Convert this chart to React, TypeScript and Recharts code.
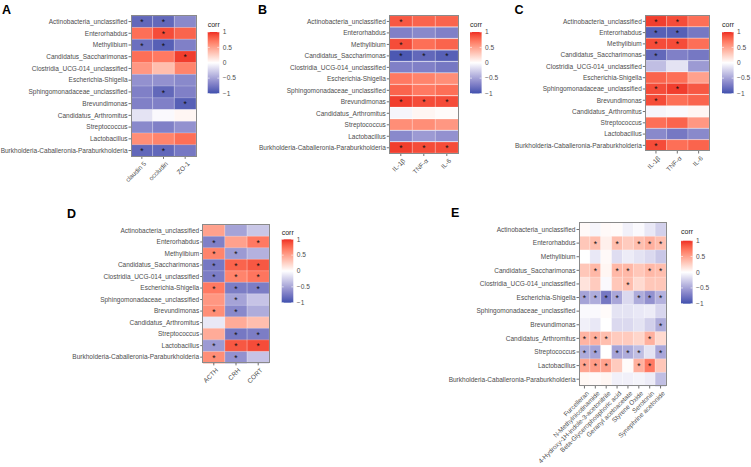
import React from 'react';
import { BarChart, Bar, XAxis, YAxis, Cell, LabelList } from 'recharts';

const FONT = '"Liberation Sans", Arial, Helvetica, sans-serif';

// ---------- data ----------
const taxa = [
  'Actinobacteria_unclassified',
  'Enterorhabdus',
  'Methylibium',
  'Candidatus_Saccharimonas',
  'Clostridia_UCG-014_unclassified',
  'Escherichia-Shigella',
  'Sphingomonadaceae_unclassified',
  'Brevundimonas',
  'Candidatus_Arthromitus',
  'Streptococcus',
  'Lactobacillus',
  'Burkholderia-Caballeronia-Paraburkholderia',
];

const colsA = ['claudin 5', 'occludin', 'ZO-1'];
const valsA = [
  [-0.85, 0.75, -0.8, 0.75, 0.55, -0.6, -0.7, -0.7, -0.15, -0.65, 0.6, -0.85],
  [-0.85, 0.9, -0.9, 0.7, 0.35, -0.6, -0.85, -0.7, -0.03, -0.7, 0.65, -0.85],
  [-0.65, 0.8, -0.7, 0.95, 0.65, -0.65, -0.7, -0.9, 0.05, -0.6, 0.75, -0.75],
];
const sigA = [[0, 2, 11], [0, 1, 2, 6, 11], [3, 7]];

const colsB = ['IL-1β', 'TNF-α', 'IL-6'];
const valsB = [
  [0.85, -0.7, 0.9, -0.95, -0.7, 0.7, 0.8, 0.95, -0.05, 0.6, -0.65, 0.95],
  [0.8, -0.65, 0.75, -0.85, -0.7, 0.65, 0.7, 0.9, 0.05, 0.6, -0.55, 0.9],
  [0.8, -0.7, 0.8, -0.9, -0.75, 0.6, 0.75, 0.9, 0.02, 0.55, -0.6, 0.9],
];
const sigB = [[0, 2, 3, 7, 11], [3, 7, 11], [3, 7, 11]];

const colsC = ['IL-1β', 'TNF-α', 'IL-6'];
const valsC = [
  [0.95, -0.9, 0.9, -0.85, -0.35, 0.8, 0.9, 0.9, -0.05, 0.75, -0.65, 0.9],
  [0.9, -0.9, 0.9, -0.7, -0.15, 0.75, 0.95, 0.75, -0.03, 0.8, -0.75, 0.75],
  [0.75, -0.75, 0.75, -0.75, -0.55, 0.5, 0.85, 0.8, 0.05, 0.55, -0.65, 0.8],
];
const sigC = [[0, 1, 2, 3, 6, 7, 11], [0, 1, 2, 6], []];

const colsD = ['ACTH', 'CRH', 'CORT'];
const valsD = [
  [0.5, -0.7, 0.65, -0.75, -0.72, 0.7, 0.55, 0.6, -0.12, 0.45, -0.55, 0.6],
  [-0.5, 0.5, -0.55, 0.8, 0.65, -0.72, -0.5, -0.65, 0.45, -0.75, 0.85, -0.6],
  [-0.3, 0.7, -0.42, 0.85, 0.72, -0.72, -0.32, -0.45, 0.35, -0.72, 0.9, -0.32],
];
const sigD = [[1, 2, 3, 4, 5, 7, 10, 11], [2, 3, 4, 5, 6, 7, 9, 10, 11], [1, 3, 4, 5, 9, 10]];

const colsE = [
  'Furcelleran',
  'N-Methylnicotinamide',
  '4-Hydroxy-1H-indole-3-acetonitrile',
  'Beta-Glycerophosphoric acid',
  'Geranyl acetoacetate',
  'Styrene Oxide',
  'Serotonin',
  'Synephrine acetonide',
];
const valsE = [
  [0.03, 0.3, 0.0, 0.3, 0.15, -0.5, -0.03, -0.08, 0.4, -0.45, 0.48, 0.04],
  [-0.05, 0.35, -0.12, 0.38, 0.28, -0.45, -0.03, -0.12, 0.42, -0.5, 0.52, 0.03],
  [0.03, 0.08, 0.03, 0.05, -0.03, -0.75, 0.02, 0.0, 0.35, 0.0, 0.5, 0.05],
  [0.02, 0.35, -0.18, 0.38, 0.3, -0.48, -0.15, -0.2, 0.28, -0.5, 0.28, -0.08],
  [-0.08, 0.28, -0.1, 0.38, 0.35, -0.2, -0.15, -0.2, 0.28, -0.45, 0.02, -0.08],
  [-0.03, 0.35, -0.15, 0.3, 0.2, -0.45, -0.12, -0.15, 0.22, -0.35, 0.42, -0.06],
  [-0.12, 0.42, -0.2, 0.38, 0.3, -0.6, -0.1, -0.25, 0.42, -0.15, 0.7, -0.1],
  [-0.25, 0.35, -0.3, 0.35, 0.3, -0.42, -0.22, -0.45, 0.2, -0.48, 0.3, -0.35],
];
const sigE = [
  [5, 8, 9, 10],
  [1, 3, 5, 8, 9, 10],
  [5, 8, 10],
  [1, 3, 5, 9],
  [3, 4, 9],
  [1, 5, 9, 10],
  [1, 3, 5, 8, 10],
  [1, 3, 5, 7, 9],
];

const legendTicks = [1, 0.5, 0, -0.5, -1];
const legendLabels = ['1', '0.5', '0', '\u22120.5', '\u22121'];

// ---------- colour scale (Lab interpolation like ggplot) ----------
const LOW = '#3F50AE';
const HIGH = '#EE2D24';
const MID = '#FFFFFF';

function hexToRgb(h: string) {
  const n = parseInt(h.slice(1), 16);
  return [(n >> 16) & 255, (n >> 8) & 255, n & 255];
}
function toLin(c: number) {
  c /= 255;
  return c <= 0.04045 ? c / 12.92 : Math.pow((c + 0.055) / 1.055, 2.4);
}
function fromLin(c: number) {
  const v = c <= 0.0031308 ? 12.92 * c : 1.055 * Math.pow(c, 1 / 2.4) - 0.055;
  return Math.round(Math.max(0, Math.min(1, v)) * 255);
}
function rgbToLab(rgb: number[]) {
  const R = toLin(rgb[0]), G = toLin(rgb[1]), B = toLin(rgb[2]);
  const X = (0.4124 * R + 0.3576 * G + 0.1805 * B) / 0.95047;
  const Y = 0.2126 * R + 0.7152 * G + 0.0722 * B;
  const Z = (0.0193 * R + 0.1192 * G + 0.9505 * B) / 1.08883;
  const f = (t: number) => (t > 0.008856 ? Math.cbrt(t) : 7.787 * t + 16 / 116);
  return [116 * f(Y) - 16, 500 * (f(X) - f(Y)), 200 * (f(Y) - f(Z))];
}
function labToRgb(lab: number[]) {
  const fy = (lab[0] + 16) / 116;
  const fx = fy + lab[1] / 500;
  const fz = fy - lab[2] / 200;
  const inv = (t: number) => (t * t * t > 0.008856 ? t * t * t : (t - 16 / 116) / 7.787);
  const X = inv(fx) * 0.95047, Y = inv(fy), Z = inv(fz) * 1.08883;
  const R = 3.2406 * X - 1.5372 * Y - 0.4986 * Z;
  const G = -0.9689 * X + 1.8758 * Y + 0.0415 * Z;
  const B = 0.0557 * X - 0.204 * Y + 1.057 * Z;
  return `rgb(${fromLin(R)},${fromLin(G)},${fromLin(B)})`;
}
const labLow = rgbToLab(hexToRgb(LOW));
const labHigh = rgbToLab(hexToRgb(HIGH));
const labMid = rgbToLab(hexToRgb(MID));
function corrColor(v: number) {
  const t = Math.max(-1, Math.min(1, v));
  const end = t >= 0 ? labHigh : labLow;
  const a = Math.abs(t);
  return labToRgb([0, 1, 2].map((k) => labMid[k] + (end[k] - labMid[k]) * a));
}

// ---------- layout ----------
const W = 751;
const H = 467;
const TICK_FONT = 6.5;

type PanelCfg = {
  letter: string;
  letterX: number;
  letterY: number;
  cols: string[];
  vals: number[][];
  sig: number[][];
  box: [number, number, number, number];
  bar: { x: number; y: number; h: number; titleY: number };
};

const panels: PanelCfg[] = [
  { letter: 'A', letterX: 2, letterY: 13.5, cols: colsA, vals: valsA, sig: sigA, box: [131, 15.7, 196, 156.4], bar: { x: 207.7, y: 32, h: 61.5, titleY: 25 } },
  { letter: 'B', letterX: 258, letterY: 13.5, cols: colsB, vals: valsB, sig: sigB, box: [389.3, 15.7, 458.3, 153.5], bar: { x: 470, y: 32, h: 61.5, titleY: 25 } },
  { letter: 'C', letterX: 514.5, letterY: 13.5, cols: colsC, vals: valsC, sig: sigC, box: [645.3, 15.7, 709.3, 151], bar: { x: 722, y: 32, h: 61.5, titleY: 25 } },
  { letter: 'D', letterX: 67, letterY: 218, cols: colsD, vals: valsD, sig: sigD, box: [202.7, 224.7, 269.3, 362.9], bar: { x: 281.7, y: 239.3, h: 63.4, titleY: 232.7 } },
  { letter: 'E', letterX: 451, letterY: 217, cols: colsE, vals: valsE, sig: sigE, box: [579, 222.7, 666, 386], bar: { x: 681, y: 240.7, h: 63, titleY: 232 } },
];

const Star = (props: any) => {
  const { x, y, width, height, value } = props;
  if (!value) return null;
  return (
    <text x={x + width / 2} y={y + height / 2 + 3.6} textAnchor="middle" fontSize={8.5} fill="#111" fontFamily={FONT}>
      *
    </text>
  );
};

function makeColTick(cols: string[]) {
  return (props: any) => {
    const { x, y, payload } = props;
    const label = cols[Math.floor(payload.value)];
    const ax = x + 1.5;
    const ay = y + 1;
    return (
      <text
        x={ax}
        y={ay}
        dy="0.72em"
        transform={`rotate(-45 ${ax} ${ay})`}
        textAnchor="end"
        fontSize={TICK_FONT}
        fill="#4d4d4d"
        fontFamily={FONT}
      >
        {label}
      </text>
    );
  };
}

function Panel({ cfg }: { cfg: PanelCfg }) {
  const [bl, bt, br, bb] = cfg.box;
  const data = taxa.map((name, i) => {
    const o: any = { name };
    cfg.cols.forEach((_, j) => {
      o['c' + j] = 1;
      o['v' + j] = cfg.vals[j][i];
      o['s' + j] = cfg.sig[j].includes(i) ? 1 : 0;
    });
    return o;
  });
  const n = cfg.cols.length;
  return (
    <div style={{ position: 'absolute', left: 0, top: 0, width: W, height: H, pointerEvents: 'none' }}>
      <BarChart
        width={W}
        height={H}
        data={data}
        layout="vertical"
        margin={{ top: bt, right: W - br, bottom: 0, left: 0 }}
        barCategoryGap={0}
        barGap={0}
      >
        <XAxis
          type="number"
          domain={[0, n]}
          ticks={cfg.cols.map((_, j) => j + 0.5)}
          interval={0}
          height={H - bb}
          axisLine={false}
          tickLine={{ stroke: '#333', strokeWidth: 0.7 }}
          tickSize={2.5}
          tickMargin={1}
          tick={makeColTick(cfg.cols)}
          allowDataOverflow
        />
        <YAxis
          type="category"
          dataKey="name"
          width={bl}
          interval={0}
          axisLine={false}
          tickLine={{ stroke: '#333', strokeWidth: 0.7 }}
          tickSize={2.5}
          tickMargin={1}
          tick={{ fontSize: TICK_FONT, fill: '#4d4d4d', fontFamily: FONT }}
        />
        {cfg.cols.map((_, j) => (
          <Bar key={j} dataKey={'c' + j} stackId="s" isAnimationActive={false}>
            {data.map((d, i) => (
              <Cell key={i} fill={corrColor(d['v' + j])} stroke="#ffffff" strokeOpacity={0.35} strokeWidth={0.6} />
            ))}
            <LabelList dataKey={'s' + j} content={Star} />
          </Bar>
        ))}
      </BarChart>
      <div
        style={{
          position: 'absolute',
          left: bl - 0.5,
          top: bt - 0.5,
          width: br - bl + 1,
          height: bb - bt + 1,
          border: '1px solid #8a8a8a',
          boxSizing: 'border-box',
        }}
      />
    </div>
  );
}

function ColorBar({ cfg }: { cfg: PanelCfg }) {
  const { x, y, h, titleY } = cfg.bar;
  const w = 11.6;
  const id = 'grad' + cfg.letter;
  const stops = [];
  for (let k = 0; k <= 20; k++) {
    const v = 1 - k / 10;
    stops.push(<stop key={k} offset={`${(k / 20) * 100}%`} stopColor={corrColor(v)} />);
  }
  return (
    <svg style={{ position: 'absolute', left: 0, top: 0 }} width={W} height={H}>
      <defs>
        <linearGradient id={id} x1="0" y1="0" x2="0" y2="1">
          {stops}
        </linearGradient>
      </defs>
      <text x={x} y={titleY} dy="0.35em" fontSize={7} fill="#222" fontFamily={FONT}>
        corr
      </text>
      <rect x={x} y={y} width={w} height={h} fill={`url(#${id})`} />
      {legendTicks.map((t, k) => {
        const ty = y + ((1 - t) / 2) * h;
        return (
          <g key={k}>
            <line x1={x} x2={x + 2} y1={ty} y2={ty} stroke="#fff" strokeWidth={0.6} />
            <line x1={x + w - 2} x2={x + w} y1={ty} y2={ty} stroke="#fff" strokeWidth={0.6} />
            <text x={x + w + 3.5} y={ty} dy="0.35em" fontSize={6.6} fill="#4d4d4d" fontFamily={FONT}>
              {legendLabels[k]}
            </text>
          </g>
        );
      })}
      <text x={cfg.letterX} y={cfg.letterY} fontSize={12.5} fontWeight="bold" fill="#000" fontFamily={FONT}>
        {cfg.letter}
      </text>
    </svg>
  );
}

export default function App() {
  return (
    <div style={{ position: 'absolute', left: 0, top: 0, width: W, height: H, background: '#fff', overflow: 'hidden' }}>
      {panels.map((p) => (
        <Panel key={p.letter} cfg={p} />
      ))}
      {panels.map((p) => (
        <ColorBar key={'l' + p.letter} cfg={p} />
      ))}
    </div>
  );
}
